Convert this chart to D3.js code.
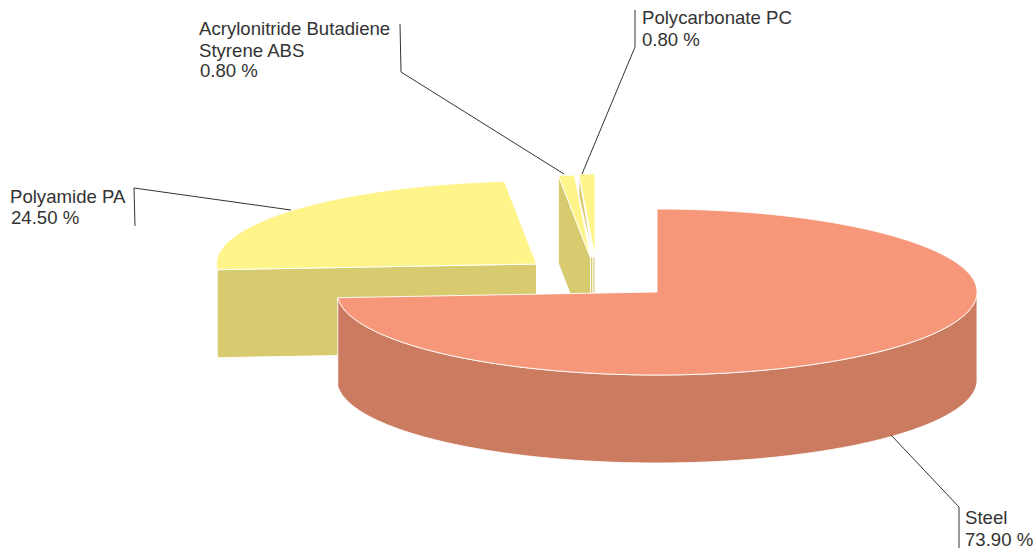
<!DOCTYPE html>
<html>
<head>
<meta charset="utf-8">
<script src="https://cdn.jsdelivr.net/npm/d3@7"></script>
<style>
html,body{margin:0;padding:0;background:#fff;overflow:hidden}
svg{display:block}
text{font-family:"Liberation Sans",Arial,sans-serif;font-size:18.6px;fill:#333}
</style>
</head>
<body>
<script>
// Data
const materials = ["Steel", "Polyamide PA", "Acrylonitride Butadiene Styrene ABS", "Polycarbonate PC"];
const shares = [73.9, 24.5, 0.8, 0.8];
const shareLabels = ["73.90 %", "24.50 %", "0.80 %", "0.80 %"];

// Layout
const W = 1035, H = 548;
const RX = 320, RY = 83, DEPTH = 88;
const centers = [[657, 292], [536.5, 264], [590.5, 258], [595, 257]];
const palette = [
  {top: "#F79779", wall: "#CA7B60"},
  {top: "#FFF48A", wall: "#D8CB6F"},
  {top: "#FFF48A", wall: "#D8CB6F"},
  {top: "#FFF48A", wall: "#D8CB6F"}
];
const labelBlocks = [
  {x: 965, lines: [[materials[0], 524], [shareLabels[0], 545.5]]},
  {x: 10,  lines: [[materials[1], 203], [shareLabels[1], 224, 1]]},
  {x: 199, lines: [["Acrylonitride Butadiene", 35], ["Styrene ABS", 57], [shareLabels[2], 77, 1]]},
  {x: 642, lines: [[materials[3], 24], [shareLabels[3], 46]]}
];
const leaders = [
  [[891, 435], [959, 507], [959, 548]],
  [[135, 226], [134, 188], [291, 210]],
  [[400, 24], [401, 72], [564, 174]],
  [[635, 10], [635, 47], [582, 174]]
];

const svg = d3.select("body").append("svg").attr("width", W).attr("height", H);

const pie = d3.pie().sort(null).startAngle(0).endAngle(2 * Math.PI);
const arcs = pie(shares);

const px = d3.scaleLinear().domain([-1, 1]).range([-RX, RX]);
const py = d3.scaleLinear().domain([-1, 1]).range([-RY, RY]);
const pt = (c, a, dy = 0) => [c[0] + px(Math.sin(a)), c[1] + py(-Math.cos(a)) + dy];
const rim = (c, a0, a1, dy = 0) => {
  const n = Math.max(2, Math.ceil(Math.abs(a1 - a0) / 0.01));
  return d3.range(n + 1).map(i => pt(c, a0 + (a1 - a0) * i / n, dy));
};
const line = d3.line();
const closed = p => line(p) + "Z";
const face = (d, fill) => svg.append("path").attr("d", closed(d)).attr("fill", fill)
  .attr("stroke", "#fff").attr("stroke-opacity", 0.9).attr("stroke-width", 1).attr("stroke-linejoin", "round");

// Draw far slices first, the large slice last
[1, 2, 3, 0].forEach(i => {
  const s = arcs[i], c = centers[i], col = palette[i];
  const apex = [c[0], c[1]], apexLow = [c[0], c[1] + DEPTH];
  if (i === 0) {
    const a0 = Math.PI / 2, a1 = s.endAngle;
    face(rim(c, a0, a1).concat(rim(c, a1, a0, DEPTH)), col.wall);
  } else if (i === 1 || i === 2) {
    const r = pt(c, s.startAngle), rl = pt(c, s.startAngle, DEPTH);
    face([apex, r, rl, apexLow], col.wall);
  } else {
    const r = pt(c, s.startAngle);
    const prev = centers[2];
    face([[c[0] - (c[0] - prev[0]) / 2, c[1]], r, [r[0], r[1] + 22]], col.wall);
    face([[prev[0], c[1]], [c[0] - 2, c[1]], [c[0] - 2, c[1] + DEPTH], [prev[0], c[1] + DEPTH]], col.wall);
    face([[c[0] - 2, c[1]], [c[0], c[1]], [c[0], c[1] + DEPTH], [c[0] - 2, c[1] + DEPTH]], col.wall);
  }
  face([apex].concat(rim(c, s.startAngle, s.endAngle)), col.top);
});

// Leaders
leaders.forEach(l => svg.append("path").attr("d", line(l)).attr("fill", "none")
  .attr("stroke", "#333").attr("stroke-width", 1));

// Labels
labelBlocks.forEach(b => b.lines.forEach(([t, y, nudge]) =>
  svg.append("text").attr("x", b.x + (nudge || 0)).attr("y", y).text(t)));
</script>
</body>
</html>
